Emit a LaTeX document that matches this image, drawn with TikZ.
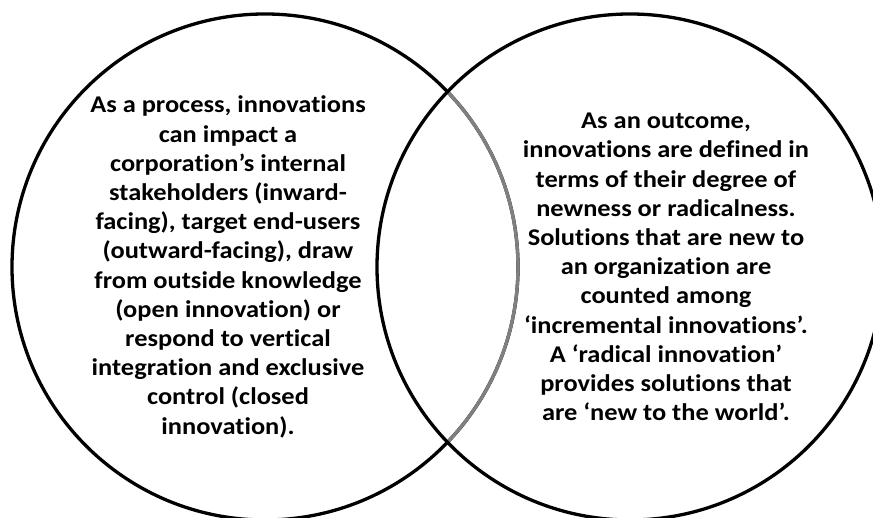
\documentclass[tikz,border=0pt]{standalone}
\usepackage{fontspec}
\setmainfont{Carlito}[Ligatures=CommonOff,FakeStretch=1.1]
\begin{document}
\begin{tikzpicture}[x=1pt,y=1pt,
  ring/.style={circle,draw=black,line width=3.3pt,minimum size=506pt,inner sep=0pt},
  vtext/.style={align=center,font=\bfseries\fontsize{24}{29.2}\selectfont,inner sep=0pt},
  overlap/.style={draw={rgb,255:red,128;green,128;blue,128},line width=3.3pt}]
\useasboundingbox (0,0) rectangle (873,518);
\clip (0,0) rectangle (873,518);
\fill[white] (0,0) rectangle (873,518);
\coordinate (cl) at (265,251);
\coordinate (cr) at (630,251);
\node[ring] (L) at (cl) {};
\draw[overlap] ([shift={(cl)}]-43.8:253) arc[start angle=-43.8,end angle=43.8,radius=253];
\node[ring] (R) at (cr) {};
\node[vtext] (lt) at (228,251) {As a process, innovations\\can impact a\\corporation’s internal\\stakeholders (inward-\\facing), target end-users\\(outward-facing), draw\\from outside knowledge\\(open innovation) or\\respond to vertical\\integration and exclusive\\control (closed\\innovation).};
\node[vtext] (rt) at (666,251) {As an outcome,\\innovations are defined in\\terms of their degree of\\newness or radicalness.\\Solutions that are new to\\an organization are\\counted among\\‘incremental innovations’.\\A ‘radical innovation’\\provides solutions that\\are ‘new to the world’.};
\end{tikzpicture}
\end{document}
